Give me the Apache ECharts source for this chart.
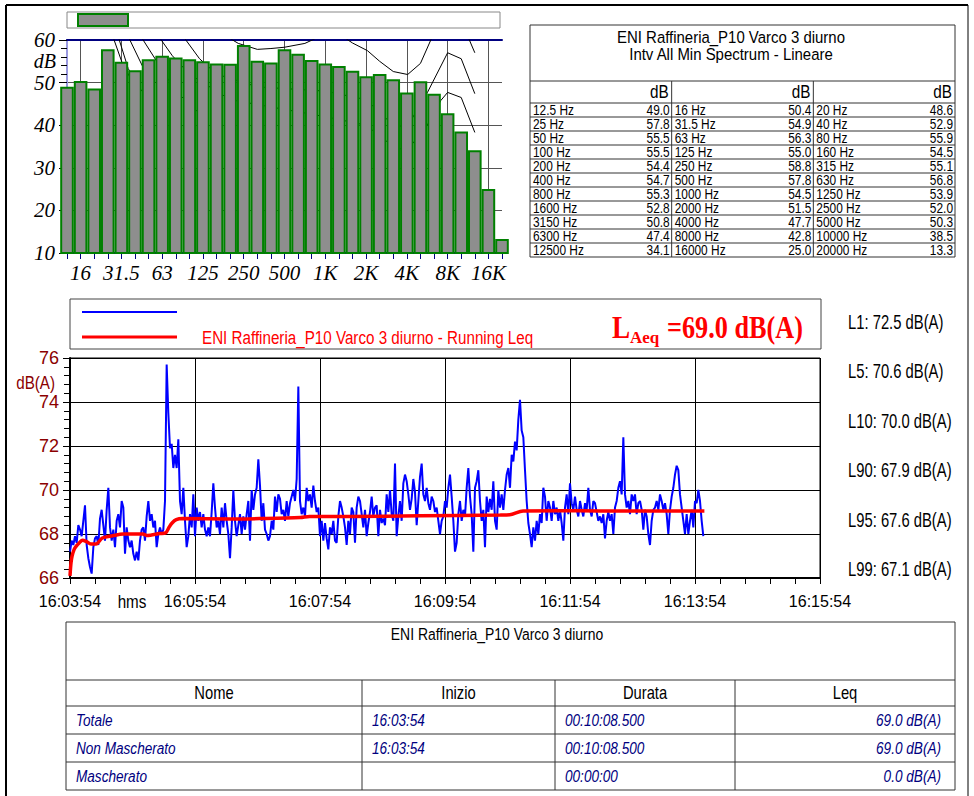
<!DOCTYPE html>
<html>
<head>
<meta charset="utf-8">
<script src="https://cdn.jsdelivr.net/npm/echarts@6/dist/echarts.min.js"></script>
<style>
  html, body { margin: 0; padding: 0; background: #fff; }
  #relatorio { width: 974px; height: 796px; }
</style>
</head>
<body>
<div id="relatorio"></div>
<script>
// Spettro 1/3 ottava (Intv All Min Spectrum - Lineare)
const bandLabels = ['12.5', '16', '20', '25', '31.5', '40', '50', '63', '80', '100', '125', '160', '200', '250', '315', '400', '500', '630', '800', '1000', '1250', '1600', '2000', '2500', '3150', '4000', '5000', '6300', '8000', '10000', '12500', '16000', '20000'];
const bandDb = [49.0, 50.4, 48.6, 57.8, 54.9, 52.9, 55.5, 56.3, 55.9, 55.5, 55.0, 54.5, 54.4, 58.8, 55.1, 54.7, 57.8, 56.8, 55.3, 54.5, 53.9, 52.8, 51.5, 52.0, 50.8, 47.7, 50.3, 47.4, 42.8, 38.5, 34.1, 25.0, 13.3];
const octaveLabels = ['16', '31.5', '63', '125', '250', '500', '1K', '2K', '4K', '8K', '16K'];

// curve di riferimento (indice banda, dB)
const curvaA = [[11.4, 61.5], [12.6, 59.2], [14, 57.8], [15, 58.0], [16, 58.3], [17.5, 59.2], [18.7, 61], [20.2, 61], [21, 59.3], [22.1, 57.5], [23, 55], [24, 52.6], [25.06, 51.9], [26, 54.5], [26.9, 61], [28, 66], [29, 63.5], [29.6, 60], [30, 57]];
const curvaB = [[8.4, 61.5], [9.75, 55.6], [11, 52], [14, 49], [19, 48], [22, 46], [24, 40], [25, 39.5], [26.5, 47.6], [28, 57], [29, 55.6], [30, 47.4]];
const curvaC = [[6.6, 61.5], [7.75, 56.3], [9, 52], [12, 46], [19, 42], [22, 40], [24, 35], [25, 34], [26.5, 40], [27.5, 45.8], [28, 47.7], [29, 46.5], [30, 38.3]];
const curvaD = [[5.3, 61.5], [6.6, 55], [8, 48], [10, 42]];
const curvaE = [[4.4, 61.5], [5.53, 54], [6.5, 50]];
const curvaF = [[3.7, 61.5], [4.5, 53.3], [5.5, 48]];
const curvaG = [[3.3, 61.5], [4.05, 54.7], [5, 49]];

// Livello istantaneo dB(A), un valore ogni 1.6 s da 16:03:54
const passoSec = 1.6;
const livelloDb = [
  67.2, 67.7, 67.5, 67.9, 67.6, 68.4, 68.2, 67.9, 68.6, 69.3,
  67.5, 66.9, 66.5, 66.2, 67.4, 67.8, 67.9, 67.5, 68.7, 69.1,
  68.4, 67.7, 69.1, 70.1, 68.3, 67.7, 68.2, 67.4, 68.6, 68.9,
  68.3, 69.5, 69.2, 67.1, 68.3, 67.7, 67.4, 67.7, 67.1, 66.8,
  67.2, 66.8, 67.7, 68.2, 68.3, 67.7, 68.8, 69.5, 68.6, 68.9,
  68.3, 68.6, 67.4, 68.0, 68.3, 68.0, 68.2, 69.5, 75.7, 73.5,
  71.9, 72.1, 71.0,
  71.6, 71.0, 72.3, 69.5, 68.9, 70.1, 68.6, 67.4, 67.9, 68.9,
  68.3, 69.8, 67.9, 69.2, 68.6, 69.0, 68.3, 68.9, 68.2, 67.9,
  68.3, 67.9, 69.0, 70.3, 69.2, 68.3, 68.6, 68.0, 69.2, 68.3,
  69.4, 68.6, 68.0, 66.9, 68.3, 70.0, 68.6, 67.9, 68.4, 68.9,
  68.0, 68.8, 68.2, 68.9, 69.5, 67.7, 70.0, 69.1, 69.8, 70.1,
  71.4, 70.2, 68.6, 69.4, 68.2, 68.0, 67.7, 67.9, 68.6, 68.2,
  69.7, 69.0, 69.8,
  69.6, 68.9, 69.1, 68.6, 69.5, 68.8, 69.4, 69.7, 70.0, 69.5,
  70.5, 74.7, 69.5, 68.9, 69.2, 68.8, 70.1, 69.5, 69.8, 69.2,
  70.2, 69.5, 69.0, 69.2, 67.9, 68.6, 67.7, 68.5, 67.8, 67.3,
  68.3, 68.0, 68.6, 67.7, 67.6, 68.8, 69.5, 69.2, 68.8, 68.3,
  67.5, 68.6, 68.0, 69.2, 69.0, 67.6, 69.2, 69.7, 69.5, 68.9,
  68.3, 69.1, 67.9, 68.5, 69.0, 69.7, 68.8, 69.2, 69.3, 67.9,
  69.1, 68.5, 68.7,
  68.4, 69.8, 69.0, 70.0, 68.9, 68.6, 71.2, 67.9, 68.8, 69.5,
  68.6, 70.3, 70.7, 70.4, 69.8, 69.1, 69.6, 70.5, 69.9, 68.4,
  69.5, 70.6, 71.2, 69.8, 69.5, 70.1, 69.4, 69.1, 69.7, 69.5,
  69.0, 69.2, 68.6, 68.0, 68.6, 68.8, 69.5, 69.2, 70.1, 70.7,
  69.7, 68.6, 67.2, 67.6, 68.9, 69.5, 68.6, 69.1, 68.8, 70.1,
  71.0, 69.7, 68.9, 67.2, 70.1, 70.4, 70.9, 69.5, 68.6, 69.1,
  67.4, 69.7, 69.0,
  69.6, 69.1, 70.4, 68.6, 68.2, 70.0, 69.2, 69.8, 69.1, 70.0,
  70.7, 71.0, 70.1, 71.6, 71.3, 72.2, 71.8, 73.2, 74.1, 72.7,
  72.4, 70.9, 69.5, 68.5, 68.0, 67.4, 68.3, 67.7, 68.6, 68.0,
  68.9, 68.5, 70.1, 69.7, 68.6, 69.5, 69.2, 68.6, 69.5, 68.9,
  69.2, 68.6, 69.1, 68.5, 67.7, 69.2, 69.8, 68.9, 70.3, 69.4,
  69.1, 69.7, 69.1, 68.8, 69.5, 69.1, 68.8, 69.4, 69.1, 70.1,
  69.1, 68.8, 69.5, 69.4,
  69.0, 68.6, 68.8, 68.5, 68.9, 67.8, 68.6, 69.0, 68.6, 68.9,
  68.0, 69.2, 69.5, 70.1, 70.4, 69.8, 72.4, 69.8, 69.2, 69.5,
  68.9, 69.8, 69.5, 69.8, 68.9, 69.4, 69.5, 69.1, 68.2, 69.1,
  68.8, 68.0, 67.5, 68.6, 69.1, 69.2, 69.5, 69.1, 69.8, 69.5,
  69.1, 69.4, 68.9, 68.0, 69.1, 69.7, 70.1, 70.7, 71.1, 70.9,
  69.8, 69.2, 68.6, 68.0, 68.9, 68.0, 68.6, 69.1, 68.3, 69.5,
  69.4, 70.0, 69.5, 68.6, 67.9
];

// Running Leq
const leqSec = [0, 1, 2, 4, 6, 9, 12, 16, 20, 25, 31, 41, 51, 70, 74, 86, 92, 95, 98, 102, 108, 154, 182, 221, 230, 269, 336, 413, 422, 435, 470, 509, 609];
const leqDb = [66.1, 66.7, 67.0, 67.3, 67.45, 67.6, 67.72, 67.65, 67.55, 67.55, 67.82, 67.92, 68.0, 68.0, 67.93, 68.02, 68.06, 68.3, 68.5, 68.65, 68.7, 68.68, 68.7, 68.75, 68.8, 68.8, 68.83, 68.86, 68.87, 69.05, 69.06, 69.05, 69.05];

// statistiche
const statNomi = ['L1', 'L5', 'L10', 'L90', 'L95', 'L99'];
const statValori = [72.5, 70.6, 70.0, 67.9, 67.6, 67.1];
const laeq = 69.0;

// tabella riassuntiva
const titoloMisura = 'ENI Raffineria_P10 Varco 3 diurno';
const colonneTabella = ['Nome', 'Inizio', 'Durata', 'Leq'];
const righeNome = ['Totale', 'Non Mascherato', 'Mascherato'];
const righeInizio = ['16:03:54', '16:03:54', ''];
const righeDurata = ['00:10:08.500', '00:10:08.500', '00:00:00'];
const righeLeq = ['69.0 dB(A)', '69.0 dB(A)', '0.0 dB(A)'];

const SANS = '"Liberation Sans", Arial, sans-serif';
const SERIF = '"Liberation Serif", "Times New Roman", serif';
// le barre tratteggiate a scacchiera appaiono grigio medio
const grigioBarre = '#8e8e8e';

function orario(sec) {
  const t = 16 * 3600 + 3 * 60 + 54 + sec;
  const h = Math.floor(t / 3600), m = Math.floor((t % 3600) / 60), s = t % 60;
  return h + ':' + String(m).padStart(2, '0') + ':' + String(s).padStart(2, '0');
}

// testo compresso in orizzontale (scaleX) come nel report originale
function testo(x, y, txt, font, colore, align, sx) {
  return {
    type: 'text', x: x, y: y, silent: true, scaleX: sx || 1,
    style: { text: txt, font: font, fill: colore || '#000', align: align || 'left', textAlign: align || 'left', verticalAlign: 'middle', textVerticalAlign: 'middle' }
  };
}
function linea(x1, y1, x2, y2, colore, w) {
  return { type: 'line', silent: true, shape: { x1: x1, y1: y1, x2: x2, y2: y2 }, style: { stroke: colore || '#000', lineWidth: w || 1 } };
}
function riquadro(x, y, w, h, colore, lw, fill) {
  return { type: 'rect', silent: true, shape: { x: x, y: y, width: w, height: h }, style: { stroke: colore || '#000', lineWidth: lw || 1, fill: fill || 'none' } };
}

const elementi = [];
// cornice pagina
elementi.push(linea(6, 5, 968, 5, '#000', 2));
elementi.push(linea(6, 5, 6, 796, '#000', 2));
elementi.push(linea(968, 5, 968, 796, '#000', 1));

// legenda spettro
elementi.push(riquadro(67, 12, 433, 16, '#888', 1, '#fff'));
elementi.push(riquadro(78, 14, 50, 12, '#008000', 2, grigioBarre));
elementi.push(testo(56, 61, 'dB', 'italic 20px ' + SERIF, '#000', 'right'));

// tabella spettro
const tx = 530, ty = 25, tw = 425, th = 232;
const colW = tw / 3;
elementi.push(riquadro(tx, ty, tw, th, '#333', 1));
elementi.push(testo(731, 37, titoloMisura, '17px ' + SANS, '#000', 'center', 0.88));
elementi.push(testo(731, 54, 'Intv All Min Spectrum - Lineare', '17px ' + SANS, '#000', 'center', 0.88));
elementi.push(linea(tx, 81, tx + tw, 81, '#333', 1));
for (let c = 0; c < 3; c++) {
  elementi.push(testo(tx + colW * (c + 1) - 3, 92, 'dB', '18px ' + SANS, '#000', 'right', 0.85));
  if (c > 0) elementi.push(linea(tx + colW * c, 81, tx + colW * c, ty + th, '#333', 1));
}
for (let r = 0; r < 11; r++) {
  const yTop = 103 + r * 14;
  elementi.push(linea(tx, yTop, tx + tw, yTop, '#333', 1));
  for (let c = 0; c < 3; c++) {
    const k = r * 3 + c;
    elementi.push(testo(tx + colW * c + 3, yTop + 7.5, bandLabels[k] + ' Hz', '14px ' + SANS, '#000', 'left', 0.85));
    elementi.push(testo(tx + colW * (c + 1) - 2, yTop + 7.5, bandDb[k].toFixed(1), '14px ' + SANS, '#000', 'right', 0.85));
  }
}

// legenda grafico temporale
elementi.push(riquadro(70, 299, 751, 50, '#444', 1));
elementi.push(linea(82, 312, 177, 312, '#0000ff', 2));
elementi.push(linea(82, 337, 177, 337, '#ff0000', 3));
elementi.push(testo(202, 337, titoloMisura + ' - Running Leq', '19px ' + SANS, '#ff0000', 'left', 0.8));
elementi.push(testo(612, 327, 'L', 'bold 32px ' + SERIF, '#ff0000', 'left', 0.85));
elementi.push(testo(630, 337, 'Aeq', 'bold 17px ' + SERIF, '#ff0000', 'left'));
elementi.push(testo(667, 327, '=' + laeq.toFixed(1) + ' dB(A)', 'bold 32px ' + SERIF, '#ff0000', 'left', 0.82));
elementi.push(testo(55, 382, 'dB(A)', '19px ' + SANS, '#8b0000', 'right', 0.8));
elementi.push(testo(132, 601, 'hms', '19px ' + SANS, '#000', 'center', 0.8));

// statistiche a destra
for (let i = 0; i < statNomi.length; i++) {
  elementi.push(testo(848, 322 + i * 49.5, statNomi[i] + ': ' + statValori[i].toFixed(1) + ' dB(A)', '20px ' + SANS, '#000', 'left', 0.74));
}

// tabella riassuntiva
const bx = 66, by = 622, bw = 889, bh = 168;
const colX = [66, 362, 555, 735, 955];
elementi.push(riquadro(bx, by, bw, bh, '#333', 1));
elementi.push(testo(497, 634, titoloMisura, '17px ' + SANS, '#000', 'center', 0.82));
[680, 706, 734, 762].forEach(y => elementi.push(linea(bx, y, bx + bw, y, '#333', 1)));
for (let c = 1; c < 4; c++) elementi.push(linea(colX[c], 680, colX[c], by + bh, '#333', 1));
for (let c = 0; c < 4; c++) {
  elementi.push(testo((colX[c] + colX[c + 1]) / 2, 692, colonneTabella[c], '18px ' + SANS, '#000', 'center', 0.82));
}
for (let r = 0; r < righeNome.length; r++) {
  const y = 720 + r * 28;
  const f = 'italic 17px ' + SANS;
  elementi.push(testo(76, y, righeNome[r], f, '#000080', 'left', 0.8));
  elementi.push(testo(372, y, righeInizio[r], f, '#000080', 'left', 0.8));
  elementi.push(testo(565, y, righeDurata[r], f, '#000080', 'left', 0.8));
  elementi.push(testo(941, y, righeLeq[r], f, '#000080', 'right', 0.8));
}

const chart = echarts.init(document.getElementById('relatorio'), null, { renderer: 'svg' });

const option = {
  animation: false,
  backgroundColor: '#fff',
  grid: [
    { left: 67, top: 40, width: 435, height: 213 },
    { left: 70, top: 358, width: 750, height: 220, show: true, borderColor: '#000', borderWidth: 1 }
  ],
  xAxis: [
    {
      gridIndex: 0, type: 'category', data: bandLabels, boundaryGap: false,
      axisLine: { lineStyle: { color: '#000080', width: 2 } },
      axisTick: { show: true, interval: 0, length: 6, lineStyle: { color: '#000080' } },
      axisLabel: {
        interval: (i) => i % 3 === 1,
        formatter: (v, i) => (i % 3 === 1 ? octaveLabels[(i - 1) / 3] : ''),
        color: '#000', fontFamily: SERIF, fontStyle: 'italic', fontSize: 21, margin: 9
      },
      splitLine: { show: true, interval: (i) => i % 3 === 1, lineStyle: { color: '#555', width: 1 } }
    },
    {
      gridIndex: 1, type: 'value', min: 0, max: 720, interval: 120,
      axisLine: { lineStyle: { color: '#000', width: 2 } },
      axisTick: { show: true, length: 6, lineStyle: { color: '#000' } },
      minorTick: { show: true, splitNumber: 5, length: 6, lineStyle: { color: '#000' } },
      axisLabel: { formatter: (v) => orario(v), color: '#000', fontFamily: SANS, fontSize: 16, margin: 15 },
      splitLine: { show: true, lineStyle: { color: '#000', width: 1 } }
    },
    { gridIndex: 0, type: 'value', min: 0, max: 32, show: false },
    {
      gridIndex: 0, type: 'value', position: 'top', min: 0, max: 1,
      axisLine: { lineStyle: { color: '#000080', width: 2 } },
      axisTick: { show: false }, axisLabel: { show: false }, splitLine: { show: false }
    }
  ],
  yAxis: [
    {
      gridIndex: 0, type: 'value', min: 10, max: 60, interval: 10,
      axisLine: { show: true, lineStyle: { color: '#000080', width: 2 } },
      axisTick: { show: true, length: 8, lineStyle: { color: '#000' } },
      minorTick: { show: true, splitNumber: 5, length: 6, lineStyle: { color: '#000' } },
      axisLabel: { color: '#000', fontFamily: SERIF, fontStyle: 'italic', fontSize: 21, margin: 12 },
      splitLine: { show: true, lineStyle: { color: '#555', width: 1 } }
    },
    {
      gridIndex: 1, type: 'value', min: 66, max: 76, interval: 2,
      axisLine: { show: true, lineStyle: { color: '#000', width: 2 } },
      axisTick: { show: true, length: 7, lineStyle: { color: '#000' } },
      minorTick: { show: true, splitNumber: 5, length: 6, lineStyle: { color: '#000' } },
      axisLabel: { color: '#8b0000', fontFamily: SANS, fontSize: 18, margin: 11 },
      splitLine: { show: true, lineStyle: { color: '#000', width: 1 } }
    },
    {
      gridIndex: 0, type: 'value', position: 'right', min: 0, max: 1,
      axisLine: { show: true, lineStyle: { color: '#9a9ae0', width: 2 } },
      axisTick: { show: false }, axisLabel: { show: false }, splitLine: { show: false }
    }
  ],
  series: [
    ...[curvaA, curvaB, curvaC, curvaD, curvaE, curvaF, curvaG].map(c => ({
      type: 'line', xAxisIndex: 2, yAxisIndex: 0, data: c, symbol: 'none', z: 1,
      lineStyle: { color: '#000', width: 1 }, silent: true
    })),
    {
      type: 'bar', xAxisIndex: 0, yAxisIndex: 0, data: bandDb, barCategoryGap: '0%', z: 3,
      itemStyle: { color: grigioBarre, borderColor: '#008000', borderWidth: 2 }
    },
    {
      type: 'line', xAxisIndex: 1, yAxisIndex: 1, symbol: 'none', z: 4,
      data: livelloDb.map((v, i) => [i * passoSec, v]),
      lineStyle: { color: '#0000ff', width: 2 }
    },
    {
      type: 'line', xAxisIndex: 1, yAxisIndex: 1, symbol: 'none', smooth: 0.3, z: 5,
      data: leqSec.map((s, i) => [s, leqDb[i]]),
      lineStyle: { color: '#ff0000', width: 3.5 }
    }
  ],
  graphic: elementi
};
chart.setOption(option);
</script>
</body>
</html>
